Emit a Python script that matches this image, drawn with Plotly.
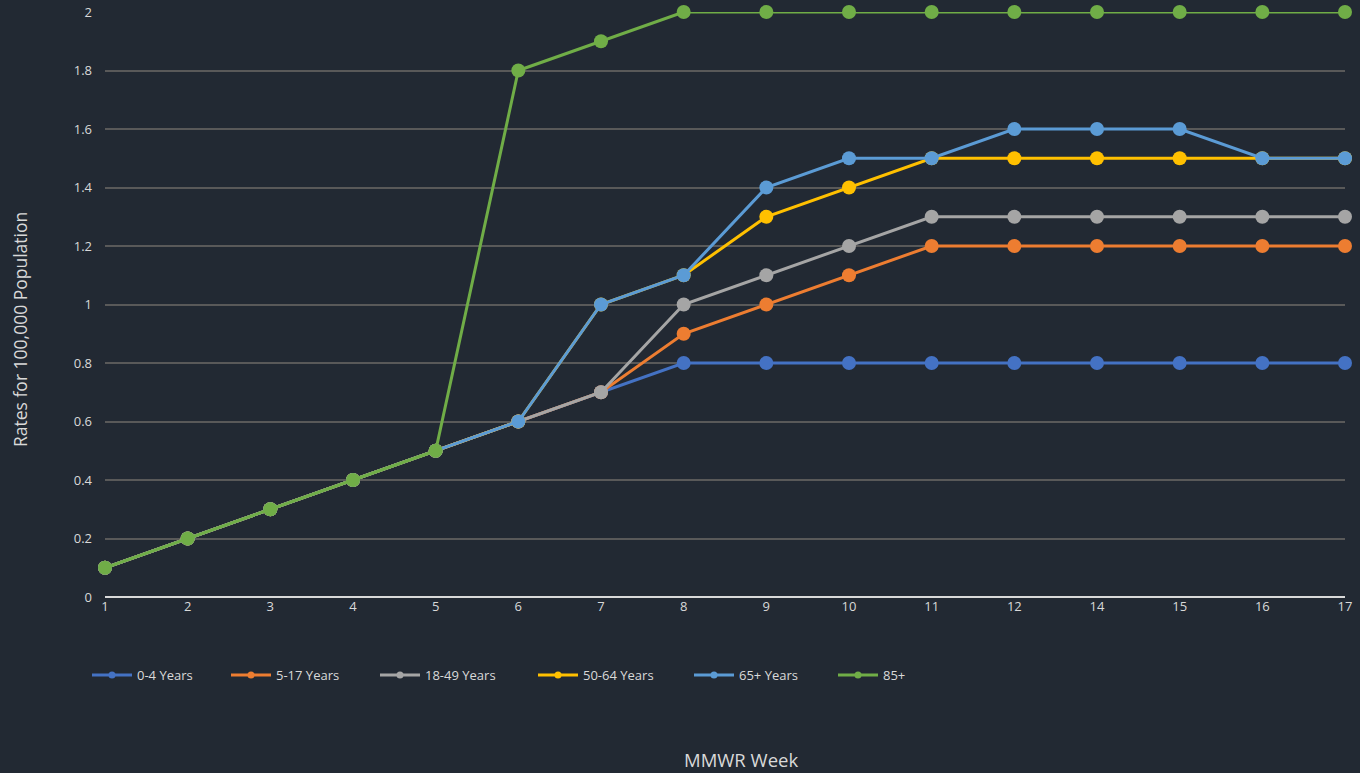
import plotly.graph_objects as go

# MMWR weeks shown on the category axis (week 13 is not reported)
weeks = ["1", "2", "3", "4", "5", "6", "7", "8", "9", "10", "11", "12", "14", "15", "16", "17"]

rate_0_4 = [0.1, 0.2, 0.3, 0.4, 0.5, 0.6, 0.7, 0.8, 0.8, 0.8, 0.8, 0.8, 0.8, 0.8, 0.8, 0.8]
rate_5_17 = [0.1, 0.2, 0.3, 0.4, 0.5, 0.6, 0.7, 0.9, 1.0, 1.1, 1.2, 1.2, 1.2, 1.2, 1.2, 1.2]
rate_18_49 = [0.1, 0.2, 0.3, 0.4, 0.5, 0.6, 0.7, 1.0, 1.1, 1.2, 1.3, 1.3, 1.3, 1.3, 1.3, 1.3]
rate_50_64 = [0.1, 0.2, 0.3, 0.4, 0.5, 0.6, 1.0, 1.1, 1.3, 1.4, 1.5, 1.5, 1.5, 1.5, 1.5, 1.5]
rate_65_plus = [0.1, 0.2, 0.3, 0.4, 0.5, 0.6, 1.0, 1.1, 1.4, 1.5, 1.5, 1.6, 1.6, 1.6, 1.5, 1.5]
rate_85_plus = [0.1, 0.2, 0.3, 0.4, 0.5, 1.8, 1.9, 2.0, 2.0, 2.0, 2.0, 2.0, 2.0, 2.0, 2.0, 2.0]

series = [
    ("0-4 Years", rate_0_4, "#4472C4"),
    ("5-17 Years", rate_5_17, "#ED7D31"),
    ("18-49 Years", rate_18_49, "#A5A5A5"),
    ("50-64 Years", rate_50_64, "#FFC000"),
    ("65+ Years", rate_65_plus, "#5B9BD5"),
    ("85+", rate_85_plus, "#70AD47"),
]

# left edge (px) of each legend entry along the bottom row
legend_px = [87, 226, 375, 533, 689, 833]

BG = "#222933"
TXT = "#d9d9d9"
FONT = "Open Sans"
W, H = 1360, 773
ML, MR, MT, MB = 105, 15, 12, 176
PW, PH = W - ML - MR, H - MT - MB


def px_x(px):
    return (px - ML) / PW


def px_y(py):
    return (MT + PH - py) / PH


fig = go.Figure()
for name, vals, color in series:
    fig.add_trace(go.Scatter(
        x=weeks, y=vals, name=name, mode="lines+markers",
        line=dict(color=color, width=3),
        marker=dict(color=color, size=14),
        cliponaxis=False, showlegend=False,
    ))

# legend entries with small markers, each in its own positioned legend
legend_layouts = {}
for i, ((name, _, color), px) in enumerate(zip(series, legend_px)):
    key = "legend" if i == 0 else f"legend{i + 1}"
    fig.add_trace(go.Scatter(
        x=[None], y=[None], name=name, mode="lines+markers",
        line=dict(color=color, width=3),
        marker=dict(color=color, size=7),
        legend=key, showlegend=True,
    ))
    legend_layouts[key] = dict(
        x=px_x(px), xanchor="left", y=px_y(675), yanchor="middle",
        font=dict(size=13, color=TXT, family=FONT), bgcolor="rgba(0,0,0,0)",
        itemwidth=40, borderwidth=0,
    )

fig.update_layout(
    width=W, height=H,
    paper_bgcolor=BG, plot_bgcolor=BG,
    margin=dict(l=ML, r=MR, t=MT, b=MB, autoexpand=False),
    font=dict(family=FONT, color=TXT, size=13),
    showlegend=True,
    xaxis=dict(
        type="category", categoryorder="array", categoryarray=weeks,
        range=[0, len(weeks) - 1], showgrid=False, zeroline=False,
        showline=False, ticks="", tickfont=dict(size=13, color=TXT),
        automargin=False,
    ),
    yaxis=dict(
        range=[0, 2], dtick=0.2, showgrid=True, gridcolor="#595959", gridwidth=1.5,
        zeroline=True, zerolinecolor="#d9d9d9", zerolinewidth=2,
        showline=False, ticks="", tickfont=dict(size=13, color=TXT),
        tickformat="~g", ticklabelstandoff=12, automargin=False,
    ),
    annotations=[
        dict(text="MMWR Week", xref="paper", yref="paper", x=px_x(741), y=px_y(759),
             xanchor="center", yanchor="middle", showarrow=False,
             font=dict(size=18.5, color=TXT, family=FONT)),
        dict(text="Rates for 100,000 Population", xref="paper", yref="paper",
             x=px_x(20), y=px_y(330), xanchor="center", yanchor="middle", textangle=-90,
             showarrow=False, font=dict(size=17.5, color=TXT, family=FONT)),
    ],
    **legend_layouts,
)

fig.write_html("out.html")
